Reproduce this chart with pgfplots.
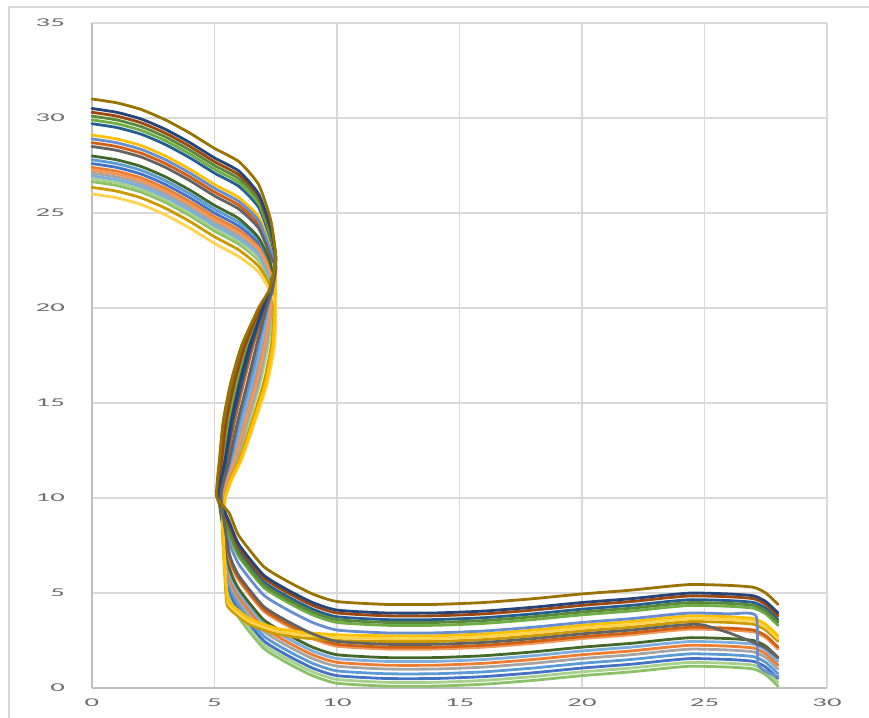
\documentclass[border=0pt]{standalone}
\usepackage{fontspec}
\setmainfont{Carlito}
\usepackage{graphicx}
\usepackage{pgfplots}
\pgfplotsset{compat=1.18}
\definecolor{cOlive}{HTML}{997300}
\definecolor{cSlate}{HTML}{264478}
\definecolor{cBrown}{HTML}{9E480E}
\definecolor{cGreenD}{HTML}{5A8A39}
\definecolor{cGreen}{HTML}{70AD47}
\definecolor{cBlueD}{HTML}{255E91}
\definecolor{cGold}{HTML}{FFC000}
\definecolor{cPeri}{HTML}{698ED0}
\definecolor{cRust}{HTML}{D26012}
\definecolor{cDGray}{HTML}{636363}
\definecolor{cDGreen}{HTML}{43682B}
\definecolor{cLBlue}{HTML}{5B9BD5}
\definecolor{cBlue}{HTML}{4472C4}
\definecolor{cOrange}{HTML}{ED7D31}
\definecolor{cLOrange}{HTML}{F1975A}
\definecolor{cGray}{HTML}{A5A5A5}
\definecolor{cLBlueB}{HTML}{7CAFDD}
\definecolor{cLGreen}{HTML}{A9D18E}
\definecolor{cGreenL}{HTML}{8CC168}
\definecolor{cDGold}{HTML}{CC9A00}
\definecolor{cLGold}{HTML}{FFD34D}
\definecolor{gridc}{HTML}{D9D9D9}
\definecolor{axisc}{HTML}{BFBFBF}
\definecolor{labc}{HTML}{6E6E6E}
\begin{document}
\begin{tikzpicture}
\path[use as bounding box] (-92bp,-30bp) rectangle (777bp,688bp);
\draw[gridc, line width=1.5bp] (-83bp,-30bp) -- (-83bp,681bp) -- (777bp,681bp);
\begin{axis}[
  at={(0,0)}, anchor=south west,
  scale only axis, width=735bp, height=665bp,
  xmin=0, xmax=30, ymin=0, ymax=35,
  xtick={0,5,...,30}, ytick={0,5,...,35},
  grid=major,
  major grid style={draw=gridc, line width=1.3bp},
  axis x line*=bottom, axis y line*=left,
  axis line style={draw=axisc, line width=1.8bp, -},
  major tick length=0pt,
  ticklabel style={font=\fontsize{12}{12}\selectfont, text=labc, inner sep=0pt},
  xticklabel={\scalebox{2.4}[1]{\pgfmathprintnumber[assume math mode=true]{\tick}}},
  yticklabel={\scalebox{2.4}[1]{\pgfmathprintnumber[assume math mode=true]{\tick}}},
  xticklabel style={anchor=center, yshift=-15bp},
  yticklabel style={anchor=east, xshift=-27bp},
  every axis plot/.append style={line width=2.8bp, line join=round, line cap=round, no markers, smooth, tension=0.35},
  clip=false,
]
% 19 green lowest
\addplot[cGreenL] coordinates {(0,26.65)(1,26.45)(2,26.1)(3,25.55)(4,24.85)(5,24.05)(6,23.35)(6.8,22.5)(7.3,21.3)(7.29,20)(7.05,18)(6.7,16)(6.26,14)(5.83,12)(5.54,11)(5.35,10)(5.6,4.9)(6,3.7)(7,2.1)(8,1.3)(9,0.65)(10,0.25)(12,0.1)(14,0.1)(16,0.2)(18,0.4)(20,0.65)(22,0.85)(23.5,1.05)(24.5,1.15)(26,1.1)(27,1.0)(27.5,0.7)(28,0.1)};
% 18 light green
\addplot[cLGreen] coordinates {(0,26.8)(1,26.6)(2,26.25)(3,25.7)(4,25.0)(5,24.2)(6,23.5)(6.8,22.6)(7.3,21.4)(7.36,20)(7.18,18)(6.85,16)(6.39,14)(5.92,12)(5.6,11)(5.38,10)(5.6,5.1)(6,3.9)(7,2.3)(8,1.5)(9,0.85)(10,0.45)(12,0.3)(14,0.3)(16,0.4)(18,0.6)(20,0.85)(22,1.05)(23.5,1.25)(24.5,1.35)(26,1.3)(27,1.2)(27.5,0.9)(28,0.3)};
% 13 blue
\addplot[cBlue] coordinates {(0,27.6)(1,27.4)(2,27.05)(3,26.5)(4,25.8)(5,25.0)(6,24.3)(6.8,23.4)(7.3,22.0)(7.4,21)(7.22,20)(6.91,18)(6.55,16)(6.13,14)(5.74,12)(5.48,11)(5.31,10)(5.6,5.3)(6,4.1)(7,2.5)(8,1.7)(9,1.05)(10,0.65)(12,0.5)(14,0.5)(16,0.6)(18,0.8)(20,1.05)(22,1.25)(23.5,1.45)(24.5,1.55)(26,1.5)(27,1.4)(27.5,1.1)(28,0.5)};
% 12 light blue
\addplot[cLBlue] coordinates {(0,27.8)(1,27.6)(2,27.25)(3,26.7)(4,26.0)(5,25.2)(6,24.5)(6.8,23.6)(7.3,22.2)(7.39,21)(7.19,20)(6.84,18)(6.48,16)(6.07,14)(5.7,12)(5.45,11)(5.29,10)(5.6,5.55)(6,4.35)(7,2.75)(8,1.95)(9,1.3)(10,0.9)(12,0.75)(14,0.75)(16,0.85)(18,1.05)(20,1.3)(22,1.5)(23.5,1.7)(24.5,1.8)(26,1.75)(27,1.65)(27.5,1.35)(28,0.75)};
% 16 gray
\addplot[cGray] coordinates {(0,27.1)(1,26.9)(2,26.55)(3,26.0)(4,25.3)(5,24.5)(6,23.8)(6.8,22.9)(7.3,21.6)(7.44,21)(7.33,20)(7.11,18)(6.78,16)(6.33,14)(5.88,12)(5.57,11)(5.36,10)(5.6,5.8)(6,4.6)(7,3.0)(8,2.2)(9,1.55)(10,1.15)(12,1.0)(14,1.0)(16,1.1)(18,1.3)(20,1.55)(22,1.75)(23.5,1.95)(24.5,2.05)(26,2.0)(27,1.9)(27.5,1.6)(28,1.0)};
% 14 orange
\addplot[cOrange] coordinates {(0,27.4)(1,27.2)(2,26.85)(3,26.3)(4,25.6)(5,24.8)(6,24.1)(6.8,23.2)(7.3,21.9)(7.41,21)(7.26,20)(6.98,18)(6.63,16)(6.2,14)(5.79,12)(5.51,11)(5.33,10)(5.6,6.0)(6,4.8)(7,3.2)(8,2.4)(9,1.75)(10,1.35)(12,1.2)(14,1.2)(16,1.3)(18,1.5)(20,1.75)(22,1.95)(23.5,2.15)(24.5,2.25)(26,2.2)(27,2.1)(27.5,1.8)(28,1.2)};
% 17 light blue b
\addplot[cLBlueB] coordinates {(0,26.95)(1,26.75)(2,26.4)(3,25.85)(4,25.15)(5,24.35)(6,23.65)(6.8,22.8)(7.3,21.5)(7.4,21)(7.22,20)(6.91,18)(6.55,16)(6.13,14)(5.74,12)(5.48,11)(5.31,10)(5.6,6.2)(6,5.0)(7,3.4)(8,2.6)(9,1.95)(10,1.55)(12,1.4)(14,1.4)(16,1.5)(18,1.7)(20,1.95)(22,2.15)(23.5,2.35)(24.5,2.45)(26,2.4)(27,2.3)(27.5,2.0)(28,1.4)};
% 11 dark green
\addplot[cDGreen] coordinates {(0,28)(1,27.8)(2,27.45)(3,26.9)(4,26.2)(5,25.4)(6,24.7)(6.8,23.7)(7.3,22.3)(7.3,21)(6.94,20)(6.37,18)(5.95,16)(5.61,14)(5.38,12)(5.24,11)(5.17,10)(5.6,6.4)(6,5.2)(7,3.6)(8,2.8)(9,2.15)(10,1.75)(12,1.6)(14,1.6)(16,1.7)(18,1.9)(20,2.15)(22,2.35)(23.5,2.55)(24.5,2.65)(26,2.6)(27,2.5)(27.5,2.2)(28,1.6)};
% 15 light orange
\addplot[cLOrange] coordinates {(0,27.25)(1,27.05)(2,26.7)(3,26.15)(4,25.45)(5,24.65)(6,23.95)(6.8,23.1)(7.3,21.8)(7.43,21)(7.29,20)(7.05,18)(6.7,16)(6.26,14)(5.83,12)(5.54,11)(5.35,10)(5.6,6.85)(6,5.65)(7,4.05)(8,3.25)(9,2.6)(10,2.2)(12,2.05)(14,2.05)(16,2.15)(18,2.35)(20,2.6)(22,2.8)(23.5,3.0)(24.5,3.1)(26,3.05)(27,2.95)(27.5,2.65)(28,2.05)};
% 9 rust
\addplot[cRust] coordinates {(0,28.7)(1,28.5)(2,28.15)(3,27.6)(4,26.9)(5,26.1)(6,25.4)(6.8,24.4)(7.3,22.9)(7.5,22.2)(7.34,21)(7.05,20)(6.57,18)(6.18,16)(5.81,14)(5.52,12)(5.33,11)(5.22,10)(5.6,6.95)(6,5.75)(7,4.15)(8,3.35)(9,2.7)(10,2.3)(12,2.15)(14,2.15)(16,2.25)(18,2.45)(20,2.7)(22,2.9)(23.5,3.1)(24.5,3.2)(26,3.15)(27,3.05)(27.5,2.75)(28,2.15)};
% 20 dark gold
\addplot[cDGold] coordinates {(0,26.35)(1,26.15)(2,25.8)(3,25.25)(4,24.55)(5,23.75)(6,23.05)(6.8,22.2)(7.3,21.1)(7.43,20)(7.32,18)(7.0,16)(6.52,14)(6.01,12)(5.66,11)(5.42,10)(5.32,8.5)(5.42,6)(5.52,4.35)(6,3.75)(6.5,3.3)(7.5,2.85)(8.5,2.65)(10,2.5)(12,2.45)(14,2.45)(16,2.55)(18,2.75)(20,3.0)(22,3.2)(23.5,3.4)(24.5,3.5)(26,3.45)(27,3.35)(27.5,3.05)(28,2.45)};
% 21 light gold
\addplot[cLGold] coordinates {(0,26)(1,25.8)(2,25.45)(3,24.9)(4,24.2)(5,23.4)(6,22.7)(6.8,21.9)(7.3,20.8)(7.5,20)(7.45,18)(7.15,16)(6.65,14)(6.1,12)(5.72,11)(5.45,10)(5.35,8.5)(5.45,6)(5.55,4.5)(6,3.9)(6.5,3.45)(7.5,3.0)(8.5,2.8)(10,2.65)(12,2.6)(14,2.6)(16,2.7)(18,2.9)(20,3.15)(22,3.35)(23.5,3.55)(24.5,3.65)(26,3.6)(27,3.5)(27.5,3.2)(28,2.6)};
% 7 gold
\addplot[cGold] coordinates {(0,29.1)(1,28.9)(2,28.55)(3,28.0)(4,27.3)(5,26.5)(6,25.8)(6.8,24.8)(7.3,23.2)(7.5,22.3)(7.49,21)(7.47,20)(7.38,18)(7.08,16)(6.59,14)(6.06,12)(5.69,11)(5.43,10)(5.33,8.5)(5.43,6)(5.55,4.65)(6,4.05)(6.5,3.6)(7.5,3.15)(8.5,2.95)(10,2.8)(12,2.75)(14,2.75)(16,2.85)(18,3.05)(20,3.3)(22,3.5)(23.5,3.7)(24.5,3.8)(26,3.75)(27,3.65)(27.5,3.35)(28,2.75)};
% 8 periwinkle
\addplot[cPeri] coordinates {(0,28.9)(1,28.7)(2,28.35)(3,27.8)(4,27.1)(5,26.3)(6,25.6)(6.8,24.6)(7.3,23.0)(7.5,22.3)(7.38,21)(7.15,20)(6.78,18)(6.4,16)(6.0,14)(5.65,12)(5.42,11)(5.28,10)(5.6,7.7)(6,6.5)(7,4.9)(8,4.1)(9,3.45)(10,3.05)(12,2.9)(14,2.9)(16,3.0)(18,3.2)(20,3.45)(22,3.65)(23.5,3.85)(24.5,3.95)(26,3.9)(27.1,3.8)(27.2,1.2)(28,0.6)};
% 6 dark blue
\addplot[cBlueD] coordinates {(0,29.7)(1,29.5)(2,29.15)(3,28.6)(4,27.9)(5,27.1)(6,26.4)(6.8,25.3)(7.3,23.6)(7.5,22.5)(7.33,21)(7.01,20)(6.5,18)(6.1,16)(5.74,14)(5.47,12)(5.3,11)(5.2,10)(5.6,8.4)(6,7.2)(7,5.6)(8,4.8)(9,4.15)(10,3.75)(12,3.6)(14,3.6)(16,3.7)(18,3.9)(20,4.15)(22,4.35)(23.5,4.55)(24.5,4.65)(26,4.6)(27,4.5)(27.5,4.2)(28,3.6)};
% 5 green
\addplot[cGreen] coordinates {(0,29.9)(1,29.7)(2,29.35)(3,28.8)(4,28.1)(5,27.3)(6,26.6)(6.8,25.5)(7.3,23.8)(7.5,22.6)(7.29,21)(6.91,20)(6.3,18)(5.88,16)(5.55,14)(5.34,12)(5.21,11)(5.15,10)(5.6,8.1)(6,6.9)(7,5.3)(8,4.5)(9,3.85)(10,3.45)(12,3.3)(14,3.3)(16,3.4)(18,3.6)(20,3.85)(22,4.05)(23.5,4.25)(24.5,4.35)(26,4.3)(27,4.2)(27.5,3.9)(28,3.3)};
% 4 dark green 2
\addplot[cGreenD] coordinates {(0,30.1)(1,29.9)(2,29.55)(3,29.0)(4,28.3)(5,27.5)(6,26.8)(6.8,25.7)(7.3,23.9)(7.5,22.6)(7.26,21)(6.84,20)(6.17,18)(5.73,16)(5.42,14)(5.25,12)(5.15,11)(5.12,10)(5.6,8.25)(6,7.05)(7,5.45)(8,4.65)(9,4.0)(10,3.6)(12,3.45)(14,3.45)(16,3.55)(18,3.75)(20,4.0)(22,4.2)(23.5,4.4)(24.5,4.5)(26,4.45)(27,4.35)(27.5,4.05)(28,3.45)};
% 3 brown
\addplot[cBrown] coordinates {(0,30.3)(1,30.1)(2,29.75)(3,29.2)(4,28.5)(5,27.7)(6,27.0)(6.8,25.9)(7.3,24.1)(7.5,22.6)(7.28,21)(6.87,20)(6.24,18)(5.8,16)(5.48,14)(5.29,12)(5.18,11)(5.14,10)(5.6,8.6)(6,7.4)(7,5.8)(8,5.0)(9,4.35)(10,3.95)(12,3.8)(14,3.8)(16,3.9)(18,4.1)(20,4.35)(22,4.55)(23.5,4.75)(24.5,4.85)(26,4.8)(27,4.7)(27.5,4.4)(28,3.8)};
% 2 slate
\addplot[cSlate] coordinates {(0,30.5)(1,30.3)(2,29.95)(3,29.4)(4,28.7)(5,27.9)(6,27.2)(6.8,26.0)(7.3,24.2)(7.5,22.6)(7.31,21)(6.98,20)(6.44,18)(6.03,16)(5.68,14)(5.43,12)(5.27,11)(5.19,10)(5.6,8.75)(6,7.55)(7,5.95)(8,5.15)(9,4.5)(10,4.1)(12,3.95)(14,3.95)(16,4.05)(18,4.25)(20,4.5)(22,4.7)(23.5,4.9)(24.5,5.0)(26,4.95)(27,4.85)(27.5,4.55)(28,3.95)};
% 10 dark gray
\addplot[cDGray] coordinates {(0,28.5)(1,28.3)(2,27.95)(3,27.4)(4,26.7)(5,25.9)(6,25.2)(6.8,24.2)(7.3,22.7)(7.5,22.1)(7.36,21)(7.12,20)(6.71,18)(6.33,16)(5.94,14)(5.61,12)(5.39,11)(5.26,10)(5.6,7.1)(6,5.9)(7,4.3)(8,3.5)(9,2.85)(10,2.45)(12,2.3)(14,2.3)(16,2.4)(18,2.6)(20,2.85)(22,3.05)(23.5,3.25)(24.5,3.35)(25,3.3)(26,2.9)(27,2.4)(27.5,2.1)(28,1.6)};
% 1 olive
\addplot[cOlive] coordinates {(0,31)(1,30.8)(2,30.45)(3,29.9)(4,29.2)(5,28.4)(6,27.7)(6.8,26.5)(7.3,24.6)(7.5,22.6)(7.25,21)(6.8,20)(6.1,18)(5.65,16)(5.35,14)(5.2,12)(5.12,11)(5.1,10)(5.6,9.2)(6,8.0)(7,6.4)(8,5.6)(9,4.95)(10,4.55)(12,4.4)(14,4.4)(16,4.5)(18,4.7)(20,4.95)(22,5.15)(23.5,5.35)(24.5,5.45)(26,5.4)(27,5.3)(27.5,5.0)(28,4.4)};
\end{axis}
\end{tikzpicture}
\end{document}
